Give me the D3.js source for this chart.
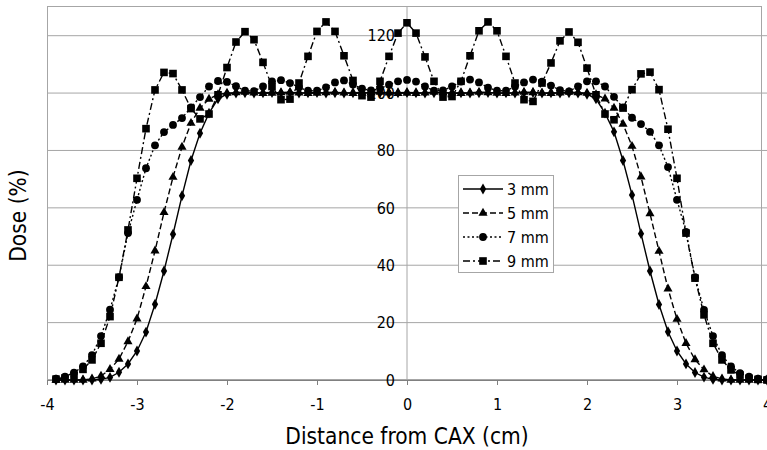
<!DOCTYPE html>
<html>
<head>
<meta charset="utf-8">
<script src="https://cdn.jsdelivr.net/npm/d3@7"></script>
<style>
  body { margin: 0; background: #fff; }
  text { font-family: "DejaVu Sans Condensed", "DejaVu Sans", sans-serif; fill: #000; }
</style>
</head>
<body>
<div id="chart"></div>
<script>
// distance from central axis (cm)
const distance = [
  -3.9, -3.8, -3.7, -3.6, -3.5, -3.4, -3.3, -3.2, -3.1, -3.0,
  -2.9, -2.8, -2.7, -2.6, -2.5, -2.4, -2.3, -2.2, -2.1, -2.0,
  -1.9, -1.8, -1.7, -1.6, -1.5, -1.4, -1.3, -1.2, -1.1, -1.0,
  -0.9, -0.8, -0.7, -0.6, -0.5, -0.4, -0.3, -0.2, -0.1, 0.0,
  0.1, 0.2, 0.3, 0.4, 0.5, 0.6, 0.7, 0.8, 0.9, 1.0,
  1.1, 1.2, 1.3, 1.4, 1.5, 1.6, 1.7, 1.8, 1.9, 2.0,
  2.1, 2.2, 2.3, 2.4, 2.5, 2.6, 2.7, 2.8, 2.9, 3.0,
  3.1, 3.2, 3.3, 3.4, 3.5, 3.6, 3.7, 3.8, 3.9, 4.0
];

const dose3mm = [
  0, 0, 0, 0, 0, 0.2, 0.9, 2.7, 5.6, 10.1,
  16.7, 26.4, 38.0, 50.8, 64.2, 76.5, 86.0, 93.0, 98.0, 99.6,
  100.0, 100.1, 100.0, 100.1, 100.2, 100.0, 100.1, 100.0, 100.1, 100.2,
  100.0, 100.1, 100.0, 100.1, 100.2, 100.0, 100.1, 100.0, 100.1, 100.2,
  100.1, 100.0, 100.1, 100.2, 100.0, 100.1, 100.0, 100.1, 100.2, 100.0,
  100.1, 100.0, 100.1, 100.2, 100.0, 100.1, 100.0, 100.1, 100.0, 99.6,
  98.0, 93.0, 86.5, 76.5, 64.5, 51.0, 38.0, 26.3, 16.8, 10.1,
  5.6, 2.6, 1.0, 0.2, 0, 0, 0, 0, 0, 0
];

const dose5mm = [
  0, 0, 0, 0, 0.4, 1.4, 3.7, 7.3, 13.4, 21.3,
  32.6, 45.0, 58.4, 70.7, 81.2, 89.5, 94.8, 97.9, 99.5, 100.0,
  100.2, 100.3, 100.1, 99.9, 100.0, 100.2, 100.3, 100.1, 99.9, 100.0,
  100.2, 100.3, 100.1, 99.9, 100.0, 100.2, 100.3, 100.1, 99.9, 100.0,
  99.9, 100.1, 100.3, 100.2, 100.0, 99.9, 100.1, 100.3, 100.2, 100.0,
  99.9, 100.1, 100.3, 100.2, 100.0, 99.9, 100.1, 100.3, 100.2, 100.0,
  99.5, 98.0, 94.8, 89.2, 81.5, 70.8, 58.0, 44.9, 31.8, 21.2,
  12.8, 7.1, 3.6, 1.3, 0.4, 0, 0, 0, 0, 0
];

const dose7mm = [
  0.5, 1.2, 2.6, 4.7, 8.7, 15.3, 24.5, 35.8, 51.2, 62.8,
  73.8, 81.8, 86.4, 88.9, 91.3, 95.0, 98.6, 102.3, 104.2, 103.9,
  102.4, 100.8, 100.7, 102.3, 104.1, 104.5, 103.5, 102.0, 100.8, 100.8,
  102.0, 103.7, 104.4, 103.0, 101.5, 100.9, 101.6, 102.9, 104.1, 104.6,
  104.0, 102.3, 100.8, 100.9, 102.3, 104.0, 104.7, 103.7, 101.9, 100.8,
  100.8, 102.3, 103.7, 104.7, 104.0, 102.6, 101.0, 100.6, 102.3, 104.1,
  104.1, 102.3, 98.7, 95.0, 91.4, 89.2, 86.5, 81.8, 74.2, 62.8,
  51.6, 35.8, 24.4, 15.3, 8.7, 4.7, 2.4, 1.2, 0.5, 0.2
];

const dose9mm = [
  0.3, 0.7, 1.6, 3.7, 7.0, 12.8, 22.1, 35.8, 52.3, 70.3,
  87.6, 101.1, 107.2, 106.8, 101.1, 94.6, 91.0, 92.7, 99.4, 108.9,
  117.8, 121.4, 118.6, 110.7, 102.3, 97.7, 97.9, 103.5, 112.8, 121.5,
  124.8, 121.5, 113.0, 104.4, 99.1, 98.6, 104.1, 112.8, 120.9, 124.5,
  120.9, 112.6, 104.1, 98.6, 98.8, 104.1, 113.0, 121.7, 124.8, 121.7,
  112.8, 103.5, 97.7, 97.1, 103.5, 110.5, 118.2, 121.3, 117.7, 108.7,
  99.4, 92.7, 90.7, 94.8, 101.2, 106.7, 107.3, 101.2, 87.4, 70.3,
  51.2, 35.5, 22.7, 12.8, 7.0, 3.5, 1.7, 0.6, 0.2, 0
];

const seriesNames = ["3 mm", "5 mm", "7 mm", "9 mm"];
const xTicks = [-4, -3, -2, -1, 0, 1, 2, 3, 4];
const yTicks = [0, 20, 40, 60, 80, 100, 120];

const width = 767, height = 450;

// how each series is drawn
const styles = [
  { dash: null, symbol: d3.symbolDiamond, size: 34 },
  { dash: "6,3", symbol: d3.symbolTriangle, size: 36 },
  { dash: "2,2.5", symbol: d3.symbolCircle, size: 48 },
  { dash: "7,3,2,3", symbol: d3.symbolSquare, size: 58 }
];

const series = [dose3mm, dose5mm, dose7mm, dose9mm].map((vals, i) => ({
  name: seriesNames[i],
  style: styles[i],
  values: vals.map((v, j) => ({ x: distance[j], y: v }))
}));

const x = d3.scaleLinear().domain([-4, 4]).range([47, 767]);
const y = d3.scaleLinear().domain([0, 130]).range([380, 7]);

const svg = d3.select("#chart").append("svg")
  .attr("width", width)
  .attr("height", height);

// gridlines
svg.append("g")
  .selectAll("line")
  .data(yTicks.slice(1))
  .join("line")
  .attr("x1", x(-4)).attr("x2", x(4))
  .attr("y1", d => y(d)).attr("y2", d => y(d))
  .attr("stroke", "#a6a6a6")
  .attr("stroke-width", 1);

// plot area border
svg.append("rect")
  .attr("x", x(-4) + 0.5)
  .attr("y", y(130) - 0.5)
  .attr("width", 761 - x(-4))
  .attr("height", y(0) - y(130))
  .attr("fill", "none")
  .attr("stroke", "#a6a6a6");

// vertical axis at x = 0
svg.append("line")
  .attr("x1", x(0)).attr("x2", x(0))
  .attr("y1", y(130)).attr("y2", y(0))
  .attr("stroke", "#a6a6a6");

// horizontal axis at y = 0
const xAxis = d3.axisBottom(x).tickValues(xTicks).tickSize(5).tickFormat(d3.format("d"));
const gx = svg.append("g")
  .attr("transform", `translate(0,${y(0)})`)
  .call(xAxis);
gx.select(".domain").attr("stroke", "#808080");
gx.selectAll(".tick line").attr("stroke", "#808080");
gx.selectAll(".tick text")
  .attr("y", 19)
  .attr("font-size", 16)
  .attr("font-family", null)
  .text(d => d < 0 ? "-" + Math.abs(d) : d);

// y tick labels beside the centre axis
svg.append("g")
  .selectAll("text")
  .data(yTicks)
  .join("text")
  .attr("x", x(0) - 12)
  .attr("y", d => y(d))
  .attr("dy", "0.36em")
  .attr("text-anchor", "end")
  .attr("font-size", 16)
  .text(d => d);

// series
const line = d3.line().x(d => x(d.x)).y(d => y(d.y));

series.forEach(s => {
  const g = svg.append("g");
  g.append("path")
    .datum(s.values)
    .attr("d", line)
    .attr("fill", "none")
    .attr("stroke", "#000")
    .attr("stroke-width", 1.4)
    .attr("stroke-dasharray", s.style.dash);
  g.selectAll("path.mark")
    .data(s.values)
    .join("path")
    .attr("class", "mark")
    .attr("transform", d => `translate(${x(d.x)},${y(d.y)})`)
    .attr("d", d3.symbol(s.style.symbol, s.style.size))
    .attr("fill", "#000");
});

// axis titles
svg.append("text")
  .attr("x", x(0))
  .attr("y", 444)
  .attr("text-anchor", "middle")
  .attr("font-size", 22.5)
  .text("Distance from CAX (cm)");

svg.append("text")
  .attr("transform", `translate(26,${(y(0) + y(130)) / 2 + 22}) rotate(-90)`)
  .attr("text-anchor", "middle")
  .attr("font-size", 22.5)
  .text("Dose (%)");

// legend
const legend = svg.append("g").attr("transform", "translate(458,175)");
legend.append("rect")
  .attr("x", 0.5).attr("y", 0.5)
  .attr("width", 95).attr("height", 97)
  .attr("fill", "#fff")
  .attr("stroke", "#a6a6a6");

series.forEach((s, i) => {
  const row = legend.append("g").attr("transform", `translate(0,${14 + i * 24})`);
  row.append("line")
    .attr("x1", 5).attr("x2", 45)
    .attr("stroke", "#000")
    .attr("stroke-width", 1.4)
    .attr("stroke-dasharray", s.style.dash);
  row.append("path")
    .attr("transform", "translate(25,0)")
    .attr("d", d3.symbol(s.style.symbol, s.style.size))
    .attr("fill", "#000");
  row.append("text")
    .attr("x", 49)
    .attr("dy", "0.36em")
    .attr("font-size", 16)
    .text(s.name);
});
</script>
</body>
</html>
